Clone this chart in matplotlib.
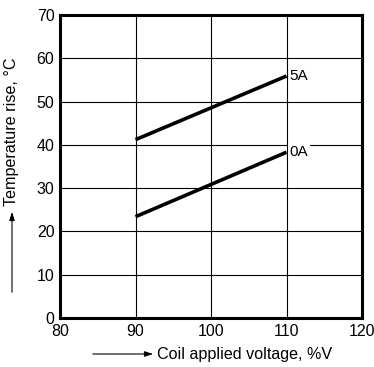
import matplotlib.pyplot as plt
from matplotlib.patches import FancyArrowPatch

plt.rcParams["font.family"] = ["Liberation Sans", "DejaVu Sans"]

voltage = [90, 110]
rise_5a = [41.2, 55.9]
rise_0a = [23.4, 38.3]
x_ticks = [80, 90, 100, 110, 120]
y_ticks = [0, 10, 20, 30, 40, 50, 60, 70]

fig = plt.figure(figsize=(3.74, 3.67), dpi=100)
ax = fig.add_axes([60 / 374, 1 - 318 / 367, 302 / 374, 303 / 367])

ax.set_xlim(80, 120)
ax.set_ylim(0, 70)
ax.set_xticks(x_ticks)
ax.set_yticks(y_ticks)
ax.grid(True, color="black", linewidth=0.8)
ax.set_axisbelow(True)
for s in ax.spines.values():
    s.set_linewidth(2.2)
    s.set_zorder(5)
ax.tick_params(length=0, labelsize=11.5)
ax.tick_params(axis="y", pad=4)
ax.tick_params(axis="x", pad=4)

ax.plot(voltage, rise_5a, color="black", linewidth=2.6, solid_capstyle="butt")
ax.plot(voltage, rise_0a, color="black", linewidth=2.6, solid_capstyle="butt")

ax.text(voltage[-1] + 0.4, rise_5a[-1], "5A", fontsize=11, va="center", ha="left")
ax.text(voltage[-1] + 0.4, rise_0a[-1], "0A", fontsize=11, va="center", ha="left",
        bbox=dict(facecolor="white", edgecolor="none", pad=1))

# axis labels with arrows
fig.text(157 / 374, 1 - 355 / 367, "Coil applied voltage, %V", fontsize=11.6,
         ha="left", va="center")
fig.patches.append(FancyArrowPatch(
    (90 / 374, 1 - 354 / 367), (156 / 374, 1 - 354 / 367),
    transform=fig.transFigure, arrowstyle="-|>,head_length=5,head_width=1.6",
    color="black", linewidth=0.8, mutation_scale=1))

fig.text(12 / 374, 1 - 206 / 367, "Temperature rise, °C", fontsize=11.6,
         rotation=90, ha="center", va="bottom")
fig.patches.append(FancyArrowPatch(
    (12 / 374, 1 - 295 / 367), (12 / 374, 1 - 209 / 367),
    transform=fig.transFigure, arrowstyle="-|>,head_length=5,head_width=1.6",
    color="black", linewidth=0.8, mutation_scale=1))

fig.savefig("out.png", dpi=100)
